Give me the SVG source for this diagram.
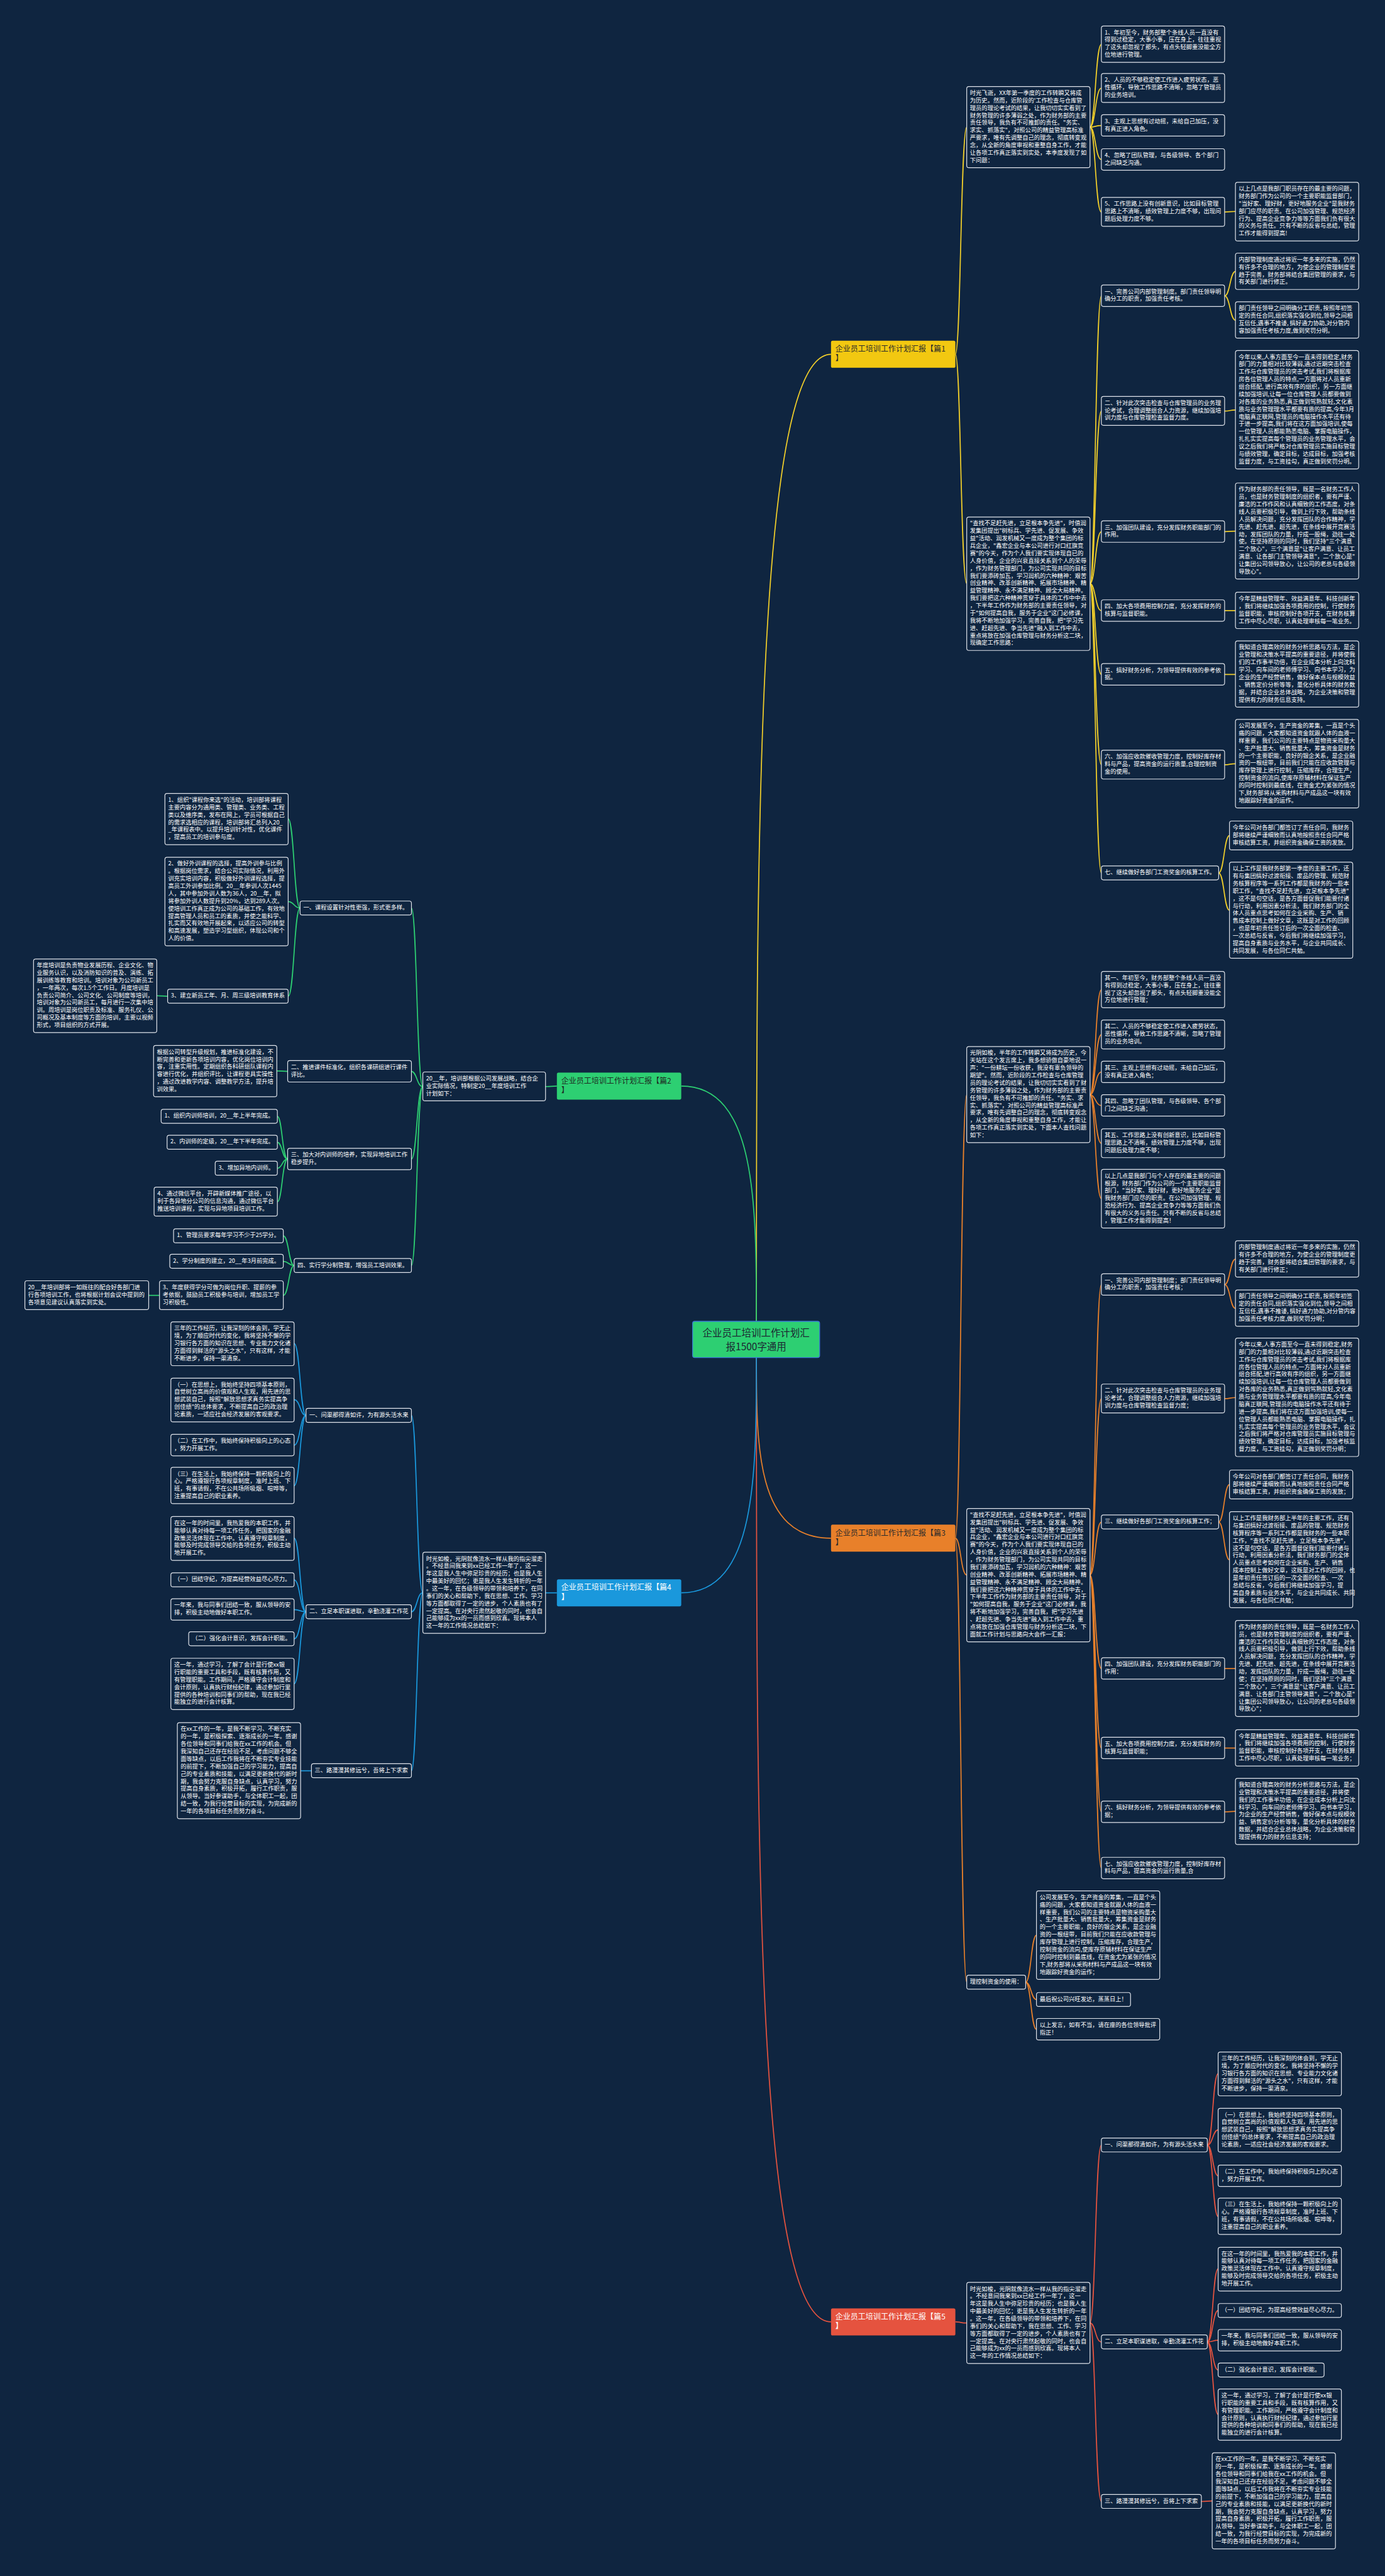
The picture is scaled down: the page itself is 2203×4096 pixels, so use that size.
<svg xmlns="http://www.w3.org/2000/svg" width="2203" height="4096" viewBox="0 0 2203 4096">
<style>
.n rect{fill:#0f2540;stroke:#dfe3ea;stroke-width:1.4}
.n text{font-family:"Noto Sans CJK SC","Noto Sans",sans-serif;font-size:10.8px;fill:#ffffff}
.lb text{font-family:"Noto Sans CJK SC","Noto Sans",sans-serif;font-size:14px}
.c path{fill:none;stroke-width:2}
.cy path{stroke:#f2cf2a}
.co path{stroke:#e8802a}
.cr path{stroke:#e5533f}
.cg path{stroke:#2dcf72}
.cb path{stroke:#1a98dc}
</style>
<rect width="2203" height="4096" fill="#0f2540"/>
<g transform="scale(0.86)">
<g id="connectors" class="c">
<g class="cy">
<path d="M1399,2443 C1399,1549 1399,655 1537,655"/>
<path d="M1767,655 C1777,655 1777,235 1788,235"/>
<path d="M1767,655 C1777,655 1777,1079 1788,1079"/>
<path d="M2016,235 C2026,235 2026,82 2037,82"/>
<path d="M2016,235 C2026,235 2026,163 2037,163"/>
<path d="M2016,235 C2026,235 2026,232 2037,232"/>
<path d="M2016,235 C2026,235 2026,295 2037,295"/>
<path d="M2016,235 C2026,235 2026,392 2037,392"/>
<path d="M2265,392 C2275,392 2275,391 2285,391"/>
<path d="M2016,1079 C2026,1079 2026,547 2037,547"/>
<path d="M2016,1079 C2026,1079 2026,760 2037,760"/>
<path d="M2016,1079 C2026,1079 2026,983 2037,983"/>
<path d="M2016,1079 C2026,1079 2026,1129 2037,1129"/>
<path d="M2016,1079 C2026,1079 2026,1247 2037,1247"/>
<path d="M2016,1079 C2026,1079 2026,1414 2037,1414"/>
<path d="M2016,1079 C2026,1079 2026,1614 2037,1614"/>
<path d="M2265,547 C2275,547 2275,502 2285,502"/>
<path d="M2265,547 C2275,547 2275,592 2285,592"/>
<path d="M2265,760 C2275,760 2275,758 2285,758"/>
<path d="M2265,983 C2275,983 2275,982 2285,982"/>
<path d="M2265,1129 H2285"/>
<path d="M2265,1247 H2285"/>
<path d="M2265,1414 C2275,1414 2275,1412 2285,1412"/>
<path d="M2254,1614 C2264,1614 2264,1545 2274,1545"/>
<path d="M2254,1614 C2264,1614 2264,1683 2274,1683"/>
</g>
<g class="co">
<path d="M1399,2510 C1399,2677 1399,2844 1537,2844"/>
<path d="M1767,2844 C1777,2844 1777,2024 1788,2024"/>
<path d="M1767,2844 C1777,2844 1777,2912 1788,2912"/>
<path d="M1767,2844 C1777,2844 1777,3665 1788,3665"/>
<path d="M2016,2024 C2026,2024 2026,1830 2037,1830"/>
<path d="M2016,2024 C2026,2024 2026,1913 2037,1913"/>
<path d="M2016,2024 C2026,2024 2026,1982 2037,1982"/>
<path d="M2016,2024 C2026,2024 2026,2044 2037,2044"/>
<path d="M2016,2024 C2026,2024 2026,2114 2037,2114"/>
<path d="M2016,2024 C2026,2024 2026,2216 2037,2216"/>
<path d="M2016,2912 C2026,2912 2026,2375 2037,2375"/>
<path d="M2016,2912 C2026,2912 2026,2586 2037,2586"/>
<path d="M2016,2912 C2026,2912 2026,2814 2037,2814"/>
<path d="M2016,2912 C2026,2912 2026,3085 2037,3085"/>
<path d="M2016,2912 C2026,2912 2026,3232 2037,3232"/>
<path d="M2016,2912 C2026,2912 2026,3350 2037,3350"/>
<path d="M2016,2912 C2026,2912 2026,3454 2037,3454"/>
<path d="M1897,3665 C1907,3665 1907,3578 1917,3578"/>
<path d="M1897,3665 C1907,3665 1907,3697 1917,3697"/>
<path d="M1897,3665 C1907,3665 1907,3752 1917,3752"/>
<path d="M2265,2375 C2275,2375 2275,2328 2285,2328"/>
<path d="M2265,2375 C2275,2375 2275,2419 2285,2419"/>
<path d="M2265,2586 C2275,2586 2275,2584 2285,2584"/>
<path d="M2254,2814 C2264,2814 2264,2745 2274,2745"/>
<path d="M2254,2814 C2264,2814 2264,2884 2274,2884"/>
<path d="M2265,3085 H2285"/>
<path d="M2265,3232 H2285"/>
<path d="M2265,3350 C2275,3350 2275,3349 2285,3349"/>
</g>
<g class="cr">
<path d="M1399,2510 C1399,3401 1399,4293 1537,4293"/>
<path d="M1767,4293 C1777,4293 1777,4295 1788,4295"/>
<path d="M2016,4295 C2026,4295 2026,3966 2037,3966"/>
<path d="M2016,4295 C2026,4295 2026,4330 2037,4330"/>
<path d="M2016,4295 C2026,4295 2026,4625 2037,4625"/>
<path d="M2233,3966 C2243,3966 2243,3834 2253,3834"/>
<path d="M2233,3966 C2243,3966 2243,3938 2253,3938"/>
<path d="M2233,3966 C2243,3966 2243,4023 2253,4023"/>
<path d="M2233,3966 C2243,3966 2243,4098 2253,4098"/>
<path d="M2233,4330 C2243,4330 2243,4195 2253,4195"/>
<path d="M2233,4330 C2243,4330 2243,4272 2253,4272"/>
<path d="M2233,4330 C2243,4330 2243,4327 2253,4327"/>
<path d="M2233,4330 C2243,4330 2243,4382 2253,4382"/>
<path d="M2233,4330 C2243,4330 2243,4464 2253,4464"/>
<path d="M2222,4625 C2232,4625 2232,4624 2242,4624"/>
</g>
<g class="cg">
<path d="M1399,2443 C1399,2225 1399,2008 1260,2008"/>
<path d="M1030,2008 C1020,2008 1020,2009 1009,2009"/>
<path d="M782,2009 C771,2009 771,1679 761,1679"/>
<path d="M782,2009 C771,2009 771,1981 761,1981"/>
<path d="M782,2009 C771,2009 771,2143 761,2143"/>
<path d="M782,2009 C771,2009 771,2340 761,2340"/>
<path d="M555,1679 C544,1679 544,1514 533,1514"/>
<path d="M555,1679 C544,1679 544,1667 533,1667"/>
<path d="M555,1679 C544,1679 544,1842 533,1842"/>
<path d="M310,1842 C300,1842 300,1841 290,1841"/>
<path d="M532,1981 C522,1981 522,1980 512,1980"/>
<path d="M532,2143 C522,2143 522,2064 513,2064"/>
<path d="M532,2143 C522,2143 522,2112 513,2112"/>
<path d="M532,2143 C522,2143 522,2160 513,2160"/>
<path d="M532,2143 C522,2143 522,2222 513,2222"/>
<path d="M544,2340 C534,2340 534,2285 524,2285"/>
<path d="M544,2340 C534,2340 534,2332 524,2332"/>
<path d="M544,2340 C534,2340 534,2395 524,2395"/>
<path d="M295,2395 H275"/>
</g>
<g class="cb">
<path d="M1399,2510 C1399,2727 1399,2945 1260,2945"/>
<path d="M1030,2945 H1009"/>
<path d="M782,2945 C771,2945 771,2617 761,2617"/>
<path d="M782,2945 C771,2945 771,2980 761,2980"/>
<path d="M782,2945 C771,2945 771,3274 761,3274"/>
<path d="M566,2617 C555,2617 555,2484 544,2484"/>
<path d="M566,2617 C555,2617 555,2588 544,2588"/>
<path d="M566,2617 C555,2617 555,2672 544,2672"/>
<path d="M566,2617 C555,2617 555,2747 544,2747"/>
<path d="M566,2980 C555,2980 555,2844 544,2844"/>
<path d="M566,2980 C555,2980 555,2921 544,2921"/>
<path d="M566,2980 C555,2980 555,2976 544,2976"/>
<path d="M566,2980 C555,2980 555,3030 544,3030"/>
<path d="M566,2980 C555,2980 555,3113 544,3113"/>
<path d="M576,3274 H556"/>
</g>
</g>

<g id="root"><rect x="1281" y="2443" width="235" height="67" rx="4" fill="#2dcf72" stroke="#3a7bd5" stroke-width="1.5"/><text x="1398.5" y="2471" text-anchor="middle" font-family="Noto Sans CJK SC,Noto Sans,sans-serif" font-size="18" fill="#1c2833"><tspan x="1398.5" y="2471">企业员工培训工作计划汇</tspan><tspan x="1398.5" y="2496">报1500字通用</tspan></text></g>

<g id="label1" class="lb"><rect x="1537" y="630" width="230" height="50" rx="3" fill="#f2c811"/><text fill="#2b2b2b"><tspan x="1545" y="650">企业员工培训工作计划汇报【篇1</tspan><tspan x="1545" y="668">】</tspan></text></g>
<g id="label2" class="lb"><rect x="1030" y="1983" width="230" height="50" rx="3" fill="#2dcf72"/><text fill="#1d2b22"><tspan x="1038" y="2003">企业员工培训工作计划汇报【篇2</tspan><tspan x="1038" y="2021">】</tspan></text></g>
<g id="label3" class="lb"><rect x="1537" y="2819" width="230" height="50" rx="3" fill="#e8802a"/><text fill="#2b2b2b"><tspan x="1545" y="2839">企业员工培训工作计划汇报【篇3</tspan><tspan x="1545" y="2857">】</tspan></text></g>
<g id="label4" class="lb"><rect x="1030" y="2920" width="230" height="50" rx="3" fill="#1a98dc"/><text fill="#ffffff"><tspan x="1038" y="2940">企业员工培训工作计划汇报【篇4</tspan><tspan x="1038" y="2958">】</tspan></text></g>
<g id="label5" class="lb"><rect x="1537" y="4268" width="230" height="50" rx="3" fill="#e5533f"/><text fill="#ffffff"><tspan x="1545" y="4288">企业员工培训工作计划汇报【篇5</tspan><tspan x="1545" y="4306">】</tspan></text></g>

<!-- Branch 1 -->
<g id="y_l2a" class="n"><rect x="1788" y="160" width="228" height="150" rx="4"/><text><tspan x="1794" y="175.5">时光飞逝，XX年第一季度的工作转瞬又将成</tspan><tspan x="1794" dy="13.8">为历史。然而，近阶段的'工作检查与仓库管</tspan><tspan x="1794" dy="13.8">理员的理论考试的结果，让我切切实实看到了</tspan><tspan x="1794" dy="13.8">财务管理的许多薄弱之处，作为财务部的主要</tspan><tspan x="1794" dy="13.8">责任领导，我负有不可推卸的责任。"务实、</tspan><tspan x="1794" dy="13.8">求实、抓落实"，对照公司的精益管理高标准</tspan><tspan x="1794" dy="13.8">严要求，唯有先调整自己的理念，彻底转变观</tspan><tspan x="1794" dy="13.8">念，从全新的角度审视和重整自身工作，才能</tspan><tspan x="1794" dy="13.8">让各项工作真正落实到实处，本季度发现了如</tspan><tspan x="1794" dy="13.8">下问题：</tspan></text></g>
<g id="y_1" class="n"><rect x="2037" y="48" width="228" height="67.2" rx="4"/><text><tspan x="2043" y="63.5">1、年初至今，财务部整个条线人员一直没有</tspan><tspan x="2043" dy="13.8">得到过稳定，大事小事，压在身上，往往重视</tspan><tspan x="2043" dy="13.8">了这头却忽视了那头，有点头轻脚重没能全方</tspan><tspan x="2043" dy="13.8">位地进行管理。</tspan></text></g>
<g id="y_2" class="n"><rect x="2037" y="136" width="228" height="53.4" rx="4"/><text><tspan x="2043" y="151.5">2、人员的不够稳定使工作进入疲劳状态，恶</tspan><tspan x="2043" dy="13.8">性循环，导致工作思路不清晰，忽略了管理员</tspan><tspan x="2043" dy="13.8">的业务培训。</tspan></text></g>
<g id="y_3" class="n"><rect x="2037" y="212" width="228" height="39.6" rx="4"/><text><tspan x="2043" y="227.5">3、主观上思想有过动摇，未给自己加压，没</tspan><tspan x="2043" dy="13.8">有真正进入角色。</tspan></text></g>
<g id="y_4" class="n"><rect x="2037" y="275" width="228" height="39.6" rx="4"/><text><tspan x="2043" y="290.5">4、忽略了团队管理，与各级领导、各个部门</tspan><tspan x="2043" dy="13.8">之间缺乏沟通。</tspan></text></g>
<g id="y_5" class="n"><rect x="2037" y="365" width="228" height="53.4" rx="4"/><text><tspan x="2043" y="380.5">5、工作思路上没有创新意识，比如目标管理</tspan><tspan x="2043" dy="13.8">思路上不清晰，绩效管理上力度不够，出现问</tspan><tspan x="2043" dy="13.8">题后处理力度不够。</tspan></text></g>
<g id="y_5a" class="n"><rect x="2285" y="337" width="228" height="108.6" rx="4"/><text><tspan x="2291" y="352.5">以上几点是我部门职员存在的最主要的问题，</tspan><tspan x="2291" dy="13.8">财务部门作为公司的一个主要职能监督部门，</tspan><tspan x="2291" dy="13.8">"当好家、理好财，更好地服务企业"是我财务</tspan><tspan x="2291" dy="13.8">部门应尽的职责。在公司加强管理、规范经济</tspan><tspan x="2291" dy="13.8">行为、提高企业竞争力等等方面我们负有很大</tspan><tspan x="2291" dy="13.8">的义务与责任。只有不断的反省与总结，管理</tspan><tspan x="2291" dy="13.8">工作才能得到提高!</tspan></text></g>
<g id="y_l2b" class="n"><rect x="1788" y="956" width="228" height="246.6" rx="4"/><text><tspan x="1794" y="971.5">"查找不足赶先进，立足根本争先进"，时值润</tspan><tspan x="1794" dy="13.8">发集团提出"树标兵、学先进、促发展、争效</tspan><tspan x="1794" dy="13.8">益"活动、润发机械又一度成为整个集团的标</tspan><tspan x="1794" dy="13.8">兵企业，"鑫宏企业与本公司进行对口红旗竞</tspan><tspan x="1794" dy="13.8">赛"的今天，作为个人我们要实现体现自已的</tspan><tspan x="1794" dy="13.8">人身价值，企业的兴衰直接关系到个人的荣辱</tspan><tspan x="1794" dy="13.8">，作为财务管理部门，为公司实现共同的目标</tspan><tspan x="1794" dy="13.8">我们要添砖加瓦，学习润机的六种精神：艰苦</tspan><tspan x="1794" dy="13.8">创业精神、改革创新精神、拓展市场精神、精</tspan><tspan x="1794" dy="13.8">益管理精神、永不满足精神、顾全大局精神。</tspan><tspan x="1794" dy="13.8">我们要把这六种精神贯穿于具体的工作中中去</tspan><tspan x="1794" dy="13.8">，下半年工作作为财务部的主要责任领导，对</tspan><tspan x="1794" dy="13.8">于"如何提高自我，服务于企业"这门必修课，</tspan><tspan x="1794" dy="13.8">我将不断地加强学习，完善自我，把"学习先</tspan><tspan x="1794" dy="13.8">进、赶超先进、争当先进"融入到工作中去，</tspan><tspan x="1794" dy="13.8">重点将放在加强仓库管理与财务分析这二块，</tspan><tspan x="1794" dy="13.8">现确定工作思路：</tspan></text></g>
<g id="y_b1" class="n"><rect x="2037" y="527" width="228" height="39.6" rx="4"/><text><tspan x="2043" y="542.5">一、完善公司内部管理制度。部门责任领导明</tspan><tspan x="2043" dy="13.8">确分工的职责，加强责任考核。</tspan></text></g>
<g id="y_b1a" class="n"><rect x="2285" y="468" width="228" height="67.2" rx="4"/><text><tspan x="2291" y="483.5">内部管理制度通过将近一年多来的实施，仍然</tspan><tspan x="2291" dy="13.8">有许多不合理的地方，为使企业的管理制度更</tspan><tspan x="2291" dy="13.8">趋于完善，财务部将结合集团管理的要求，与</tspan><tspan x="2291" dy="13.8">有关部门进行修正。</tspan></text></g>
<g id="y_b1b" class="n"><rect x="2285" y="558" width="228" height="67.2" rx="4"/><text><tspan x="2291" y="573.5">部门责任领导之间明确分工职责, 按照年初签</tspan><tspan x="2291" dy="13.8">定的责任合同,组织落实强化到位,领导之间相</tspan><tspan x="2291" dy="13.8">互信任,遇事不推诿, 搞好通力协助,对分管内</tspan><tspan x="2291" dy="13.8">容加强责任考核力度,做到奖罚分明。</tspan></text></g>
<g id="y_b2" class="n"><rect x="2037" y="733" width="228" height="53.4" rx="4"/><text><tspan x="2043" y="748.5">二、针对此次突击检查与仓库管理员的业务理</tspan><tspan x="2043" dy="13.8">论考试，合理调整组合人力资源，继续加强培</tspan><tspan x="2043" dy="13.8">训力度与仓库管理检查监督力度。</tspan></text></g>
<g id="y_b2a" class="n"><rect x="2285" y="648" width="228" height="219" rx="4"/><text><tspan x="2291" y="663.5">今年以来,人事方面至今一直未得到稳定,财务</tspan><tspan x="2291" dy="13.8">部门的力量相对比较薄弱,通过近期突击检查</tspan><tspan x="2291" dy="13.8">工作与仓库管理员的突击考试,我们将根据库</tspan><tspan x="2291" dy="13.8">房各位管理人员的特点,一方面将对人员重新</tspan><tspan x="2291" dy="13.8">组合搭配, 进行高效有序的组织，另一方面继</tspan><tspan x="2291" dy="13.8">续加强培训,让每一位仓库管理人员都要做到</tspan><tspan x="2291" dy="13.8">对各库的业务熟悉,真正做到驾熟就轻,文化素</tspan><tspan x="2291" dy="13.8">质与业务管理理水平都要有质的提高,今年3月</tspan><tspan x="2291" dy="13.8">电脑真正联网,管理员的电脑操作水平还有待</tspan><tspan x="2291" dy="13.8">于进一步提高,我们将在这方面加强培训,使每</tspan><tspan x="2291" dy="13.8">一位管理人员都能熟悉电脑、掌握电脑操作，</tspan><tspan x="2291" dy="13.8">扎扎实实提高每个管理员的业务管理水平，会</tspan><tspan x="2291" dy="13.8">议之后我们将严格对仓库管理员实施目标管理</tspan><tspan x="2291" dy="13.8">与绩效管理，确定目标，达成目标，加强考核</tspan><tspan x="2291" dy="13.8">监督力度，与工资挂勾，真正做到奖罚分明。</tspan></text></g>
<g id="y_b3" class="n"><rect x="2037" y="963" width="228" height="39.6" rx="4"/><text><tspan x="2043" y="978.5">三、加强团队建设，充分发挥财务职能部门的</tspan><tspan x="2043" dy="13.8">作用。</tspan></text></g>
<g id="y_b3a" class="n"><rect x="2285" y="893" width="228" height="177.6" rx="4"/><text><tspan x="2291" y="908.5">作为财务部的责任领导，既是一名财务工作人</tspan><tspan x="2291" dy="13.8">员，也是财务管理制度的组织者，要有严谨、</tspan><tspan x="2291" dy="13.8">廉洁的工作作风和认真细致的工作态度，对条</tspan><tspan x="2291" dy="13.8">线人员要积极引导，做到上行下效，帮助条线</tspan><tspan x="2291" dy="13.8">人员解决问题，充分发挥团队的合作精神，学</tspan><tspan x="2291" dy="13.8">先进、赶先进、超先进，在条线中展开竞赛活</tspan><tspan x="2291" dy="13.8">动，发挥团队的力量，拧成一股绳，劲往一处</tspan><tspan x="2291" dy="13.8">使。在坚持原则的同时，我们坚持"三个满意</tspan><tspan x="2291" dy="13.8">二个放心"，三个满意是"让客户满意、让员工</tspan><tspan x="2291" dy="13.8">满意、让各部门主管领导满意"，二个放心是"</tspan><tspan x="2291" dy="13.8">让集团公司领导放心，让公司的老总与各级领</tspan><tspan x="2291" dy="13.8">导放心"。</tspan></text></g>
<g id="y_b4" class="n"><rect x="2037" y="1109" width="228" height="39.6" rx="4"/><text><tspan x="2043" y="1124.5">四、加大各项费用控制力度，充分发挥财务的</tspan><tspan x="2043" dy="13.8">核算与监督职能。</tspan></text></g>
<g id="y_b4a" class="n"><rect x="2285" y="1095" width="228" height="67.2" rx="4"/><text><tspan x="2291" y="1110.5">今年是精益管理年、效益满意年、科技创新年</tspan><tspan x="2291" dy="13.8">，我们将继续加强各项费用的控制，行使财务</tspan><tspan x="2291" dy="13.8">监督职能，审核控制好各项开支，在财务核算</tspan><tspan x="2291" dy="13.8">工作中尽心尽职，认真处理审核每一笔业务。</tspan></text></g>
<g id="y_b5" class="n"><rect x="2037" y="1227" width="228" height="39.6" rx="4"/><text><tspan x="2043" y="1242.5">五、搞好财务分析，为领导提供有效的参考依</tspan><tspan x="2043" dy="13.8">据。</tspan></text></g>
<g id="y_b5a" class="n"><rect x="2285" y="1185" width="228" height="122.4" rx="4"/><text><tspan x="2291" y="1200.5">我知道合理高效的财务分析思路与方法，是企</tspan><tspan x="2291" dy="13.8">业管理和决策水平提高的重要途径，并将使我</tspan><tspan x="2291" dy="13.8">们的工作事半功倍，在企业成本分析上向沈科</tspan><tspan x="2291" dy="13.8">学习、向车间的老师傅学习、向书本学习，为</tspan><tspan x="2291" dy="13.8">企业的生产经营销售，做好保本点与规模效益</tspan><tspan x="2291" dy="13.8">、销售定价分析等等，量化分析具体的财务数</tspan><tspan x="2291" dy="13.8">据，并结合企业总体战略，为企业决策和管理</tspan><tspan x="2291" dy="13.8">提供有力的财务信息支持。</tspan></text></g>
<g id="y_b6" class="n"><rect x="2037" y="1387" width="228" height="53.4" rx="4"/><text><tspan x="2043" y="1402.5">六、加强应收款催收管理力度，控制好库存材</tspan><tspan x="2043" dy="13.8">料与产品，提高资金的运行质量,合理控制资</tspan><tspan x="2043" dy="13.8">金的使用。</tspan></text></g>
<g id="y_b6a" class="n"><rect x="2285" y="1330" width="228" height="163.8" rx="4"/><text><tspan x="2291" y="1345.5">公司发展至今，生产资金的筹集，一直是个头</tspan><tspan x="2291" dy="13.8">痛的问题，大家都知道资金就跟人体的血液一</tspan><tspan x="2291" dy="13.8">样重要，我们公司的主要特点是物资采购量大</tspan><tspan x="2291" dy="13.8">、生产批量大、销售批量大，筹集资金是财务</tspan><tspan x="2291" dy="13.8">的一个主要职能，良好的银企关系，是企业融</tspan><tspan x="2291" dy="13.8">资的一根纽带，目前我们只能在应收款管理与</tspan><tspan x="2291" dy="13.8">库存管理上进行控制，压缩库存，合理生产，</tspan><tspan x="2291" dy="13.8">控制资金的流向,使库存原辅材料在保证生产</tspan><tspan x="2291" dy="13.8">的同时控制到最底线，在资金尤为紧张的情况</tspan><tspan x="2291" dy="13.8">下,财务部将从采购材料与产成品这一块有效</tspan><tspan x="2291" dy="13.8">地跟踪好资金的运作。</tspan></text></g>
<g id="y_b7" class="n"><rect x="2037" y="1601" width="217" height="25.8" rx="4"/><text><tspan x="2043" y="1616.5">七、继续做好各部门工资奖金的核算工作。</tspan></text></g>
<g id="y_b7a" class="n"><rect x="2274" y="1518" width="228" height="53.4" rx="4"/><text><tspan x="2280" y="1533.5">今年公司对各部门都签订了责任合同，我财务</tspan><tspan x="2280" dy="13.8">部将继续严谨细致而认真地按照责任合同严格</tspan><tspan x="2280" dy="13.8">审核结算工资，并组织资金确保工资的发放。</tspan></text></g>
<g id="y_b7b" class="n"><rect x="2274" y="1594" width="228" height="177.6" rx="4"/><text><tspan x="2280" y="1609.5">以上工作是我财务部第一季度的主要工作，还</tspan><tspan x="2280" dy="13.8">有与集团搞好过渡衔接、废品的管理、规范财</tspan><tspan x="2280" dy="13.8">务核算程序等一系列工作都是我财务的一些本</tspan><tspan x="2280" dy="13.8">职工作，"查找不足赶先进，立足根本争先进"</tspan><tspan x="2280" dy="13.8">，这不是句空话，是各方面督促我们能要付诸</tspan><tspan x="2280" dy="13.8">与行动，利用因素分析法，我们财务部门的全</tspan><tspan x="2280" dy="13.8">体人员重点思考如何在企业采购、生产、销</tspan><tspan x="2280" dy="13.8">售成本控制上做好文章，这既是对工作的回顾</tspan><tspan x="2280" dy="13.8">，也是年初责任签订后的一次全面的检查、</tspan><tspan x="2280" dy="13.8">一次总结与反省，今后我们将继续加强学习，</tspan><tspan x="2280" dy="13.8">提高自身素质与业务水平，与企业共同成长、</tspan><tspan x="2280" dy="13.8">共同发展，与各位同仁共勉。</tspan></text></g>

<!-- Branch 3 -->
<g id="o_l2a" class="n"><rect x="1788" y="1935" width="228" height="177.6" rx="4"/><text><tspan x="1794" y="1950.5">光阴如梭，半年的工作转瞬又将成为历史，今</tspan><tspan x="1794" dy="13.8">天站在这个发言席上，我多想骄傲自豪地说一</tspan><tspan x="1794" dy="13.8">声："一份耕坛一份收获，我没有辜负领导的</tspan><tspan x="1794" dy="13.8">期望"。然而，近阶段的工作检查与仓库管理</tspan><tspan x="1794" dy="13.8">员的理论考试的结果，让我切切实实看到了财</tspan><tspan x="1794" dy="13.8">务管理的许多薄弱之处，作为财务部的主要责</tspan><tspan x="1794" dy="13.8">任领导，我负有不可推卸的责任。"务实、求</tspan><tspan x="1794" dy="13.8">实、抓落实"，对照公司的精益管理高标准严</tspan><tspan x="1794" dy="13.8">要求，唯有先调整自己的理念，彻底转变观念</tspan><tspan x="1794" dy="13.8">，从全新的角度审视和重整自身工作，才能让</tspan><tspan x="1794" dy="13.8">各项工作真正落实到实处，下面本人查找问题</tspan><tspan x="1794" dy="13.8">如下：</tspan></text></g>
<g id="o_1" class="n"><rect x="2037" y="1796" width="228" height="67.2" rx="4"/><text><tspan x="2043" y="1811.5">其一、年初至今，财务部整个条线人员一直没</tspan><tspan x="2043" dy="13.8">有得到过稳定，大事小事，压在身上，往往重</tspan><tspan x="2043" dy="13.8">视了这头却忽视了那头，有点头轻脚重没能全</tspan><tspan x="2043" dy="13.8">方位地进行管理；</tspan></text></g>
<g id="o_2" class="n"><rect x="2037" y="1886" width="228" height="53.4" rx="4"/><text><tspan x="2043" y="1901.5">其二、人员的不够稳定使工作进入疲劳状态，</tspan><tspan x="2043" dy="13.8">恶性循环，导致工作思路不清晰，忽略了管理</tspan><tspan x="2043" dy="13.8">员的业务培训。</tspan></text></g>
<g id="o_3" class="n"><rect x="2037" y="1962" width="228" height="39.6" rx="4"/><text><tspan x="2043" y="1977.5">其三、主观上思想有过动摇，未给自己加压，</tspan><tspan x="2043" dy="13.8">没有真正进入角色；</tspan></text></g>
<g id="o_4" class="n"><rect x="2037" y="2024" width="228" height="39.6" rx="4"/><text><tspan x="2043" y="2039.5">其四、忽略了团队管理，与各级领导、各个部</tspan><tspan x="2043" dy="13.8">门之间缺乏沟通；</tspan></text></g>
<g id="o_5" class="n"><rect x="2037" y="2087" width="228" height="53.4" rx="4"/><text><tspan x="2043" y="2102.5">其五、工作思路上没有创新意识，比如目标管</tspan><tspan x="2043" dy="13.8">理思路上不清晰，绩效管理上力度不够，出现</tspan><tspan x="2043" dy="13.8">问题后处理力度不够；</tspan></text></g>
<g id="o_6" class="n"><rect x="2037" y="2162" width="228" height="108.6" rx="4"/><text><tspan x="2043" y="2177.5">以上几点是我部门与个人存在的最主要的问题</tspan><tspan x="2043" dy="13.8">根源，财务部门作为公司的一个主要职能监督</tspan><tspan x="2043" dy="13.8">部门，"当好家、理好财，更好地服务企业"是</tspan><tspan x="2043" dy="13.8">我财务部门应尽的职责。在公司加强管理、规</tspan><tspan x="2043" dy="13.8">范经济行为、提高企业竞争力等等方面我们负</tspan><tspan x="2043" dy="13.8">有很大的义务与责任。只有不断的反省与总结</tspan><tspan x="2043" dy="13.8">，管理工作才能得到提高！</tspan></text></g>
<g id="o_l2b" class="n"><rect x="1788" y="2789" width="228" height="246.6" rx="4"/><text><tspan x="1794" y="2804.5">"查找不足赶先进，立足根本争先进"，时值润</tspan><tspan x="1794" dy="13.8">发集团提出"树标兵、学先进、促发展、争效</tspan><tspan x="1794" dy="13.8">益"活动、润发机械又一度成为整个集团的标</tspan><tspan x="1794" dy="13.8">兵企业，"鑫宏企业与本公司进行对口红旗竞</tspan><tspan x="1794" dy="13.8">赛"的今天，作为个人我们要实现体现自已的</tspan><tspan x="1794" dy="13.8">人身价值，企业的兴衰直接关系到个人的荣辱</tspan><tspan x="1794" dy="13.8">，作为财务管理部门，为公司实现共同的目标</tspan><tspan x="1794" dy="13.8">我们要添砖加瓦，学习润机的六种精神：艰苦</tspan><tspan x="1794" dy="13.8">创业精神、改革创新精神、拓展市场精神、精</tspan><tspan x="1794" dy="13.8">益管理精神、永不满足精神、顾全大局精神。</tspan><tspan x="1794" dy="13.8">我们要把这六种精神贯穿于具体的工作中去，</tspan><tspan x="1794" dy="13.8">下半年工作作为财务部的主要责任领导，对于</tspan><tspan x="1794" dy="13.8">"如何提高自我，服务于企业"这门必修课，我</tspan><tspan x="1794" dy="13.8">将不断地加强学习，完善自我，把"学习先进</tspan><tspan x="1794" dy="13.8">、赶超先进、争当先进"融入到工作中去，重</tspan><tspan x="1794" dy="13.8">点将放在加强仓库管理与财务分析这二块，下</tspan><tspan x="1794" dy="13.8">面就工作计划与思路向大会作一汇报：</tspan></text></g>
<g id="o_b1" class="n"><rect x="2037" y="2355" width="228" height="39.6" rx="4"/><text><tspan x="2043" y="2370.5">一、完善公司内部管理制度；部门责任领导明</tspan><tspan x="2043" dy="13.8">确分工的职责，加强责任考核；</tspan></text></g>
<g id="o_b1a" class="n"><rect x="2285" y="2294" width="228" height="67.2" rx="4"/><text><tspan x="2291" y="2309.5">内部管理制度通过将近一年多来的实施，仍然</tspan><tspan x="2291" dy="13.8">有许多不合理的地方，为使企业的管理制度更</tspan><tspan x="2291" dy="13.8">趋于完善，财务部将结合集团管理的要求，与</tspan><tspan x="2291" dy="13.8">有关部门进行修正；</tspan></text></g>
<g id="o_b1b" class="n"><rect x="2285" y="2385" width="228" height="67.2" rx="4"/><text><tspan x="2291" y="2400.5">部门责任领导之间明确分工职责, 按照年初签</tspan><tspan x="2291" dy="13.8">定的责任合同,组织落实强化到位,领导之间相</tspan><tspan x="2291" dy="13.8">互信任,遇事不推诿, 搞好通力协助,对分管内容</tspan><tspan x="2291" dy="13.8">加强责任考核力度,做到奖罚分明；</tspan></text></g>
<g id="o_b2" class="n"><rect x="2037" y="2559" width="228" height="53.4" rx="4"/><text><tspan x="2043" y="2574.5">二、针对此次突击检查与仓库管理员的业务理</tspan><tspan x="2043" dy="13.8">论考试，合理调整组合人力资源，继续加强培</tspan><tspan x="2043" dy="13.8">训力度与仓库管理检查监督力度；</tspan></text></g>
<g id="o_b2a" class="n"><rect x="2285" y="2474" width="228" height="219" rx="4"/><text><tspan x="2291" y="2489.5">今年以来,人事方面至今一直未得到稳定,财务</tspan><tspan x="2291" dy="13.8">部门的力量相对比较薄弱,通过近期突击检查</tspan><tspan x="2291" dy="13.8">工作与仓库管理员的突击考试,我们将根据库</tspan><tspan x="2291" dy="13.8">房各位管理人员的特点,一方面将对人员重新</tspan><tspan x="2291" dy="13.8">组合搭配,进行高效有序的组织，另一方面继</tspan><tspan x="2291" dy="13.8">续加强培训,让每一位仓库管理人员都要做到</tspan><tspan x="2291" dy="13.8">对各库的业务熟悉,真正做到驾熟就轻,文化素</tspan><tspan x="2291" dy="13.8">质与业务管理理水平都要有质的提高,今年电</tspan><tspan x="2291" dy="13.8">脑真正联网,管理员的电脑操作水平还有待于</tspan><tspan x="2291" dy="13.8">进一步提高,我们将在这方面加强培训,使每一</tspan><tspan x="2291" dy="13.8">位管理人员都能熟悉电脑、掌握电脑操作，扎</tspan><tspan x="2291" dy="13.8">扎实实提高每个管理员的业务管理水平，会议</tspan><tspan x="2291" dy="13.8">之后我们将严格对仓库管理员实施目标管理与</tspan><tspan x="2291" dy="13.8">绩效管理，确定目标，达成目标，加强考核监</tspan><tspan x="2291" dy="13.8">督力度，与工资挂勾，真正做到奖罚分明；</tspan></text></g>
<g id="o_b3" class="n"><rect x="2037" y="2801" width="217" height="25.8" rx="4"/><text><tspan x="2043" y="2816.5">三、继续做好各部门工资奖金的核算工作；</tspan></text></g>
<g id="o_b3a" class="n"><rect x="2274" y="2718" width="228" height="53.4" rx="4"/><text><tspan x="2280" y="2733.5">今年公司对各部门都签订了责任合同，我财务</tspan><tspan x="2280" dy="13.8">部将继续严谨细致而认真地按照责任合同严格</tspan><tspan x="2280" dy="13.8">审核结算工资，并组织资金确保工资的发放；</tspan></text></g>
<g id="o_b3b" class="n"><rect x="2274" y="2795" width="228" height="177.6" rx="4"/><text><tspan x="2280" y="2810.5">以上工作是我财务部上半年的主要工作，还有</tspan><tspan x="2280" dy="13.8">与集团搞好过渡衔接、废品的管理、规范财务</tspan><tspan x="2280" dy="13.8">核算程序等一系列工作都是我财务的一些本职</tspan><tspan x="2280" dy="13.8">工作，"查找不足赶先进，立足根本争先进"，</tspan><tspan x="2280" dy="13.8">这不是句空话，是各方面督促我们能要付诸与</tspan><tspan x="2280" dy="13.8">行动，利用因素分析法，我们财务部门的全体</tspan><tspan x="2280" dy="13.8">人员重点思考如何在企业采购、生产、销售</tspan><tspan x="2280" dy="13.8">成本控制上做好文章，这既是对工作的回顾，也</tspan><tspan x="2280" dy="13.8">是年初责任签订后的一次全面的检查、一次</tspan><tspan x="2280" dy="13.8">总结与反省，今后我们将继续加强学习，提</tspan><tspan x="2280" dy="13.8">高自身素质与业务水平，与企业共同成长、共同</tspan><tspan x="2280" dy="13.8">发展，与各位同仁共勉；</tspan></text></g>
<g id="o_b4" class="n"><rect x="2037" y="3065" width="228" height="39.6" rx="4"/><text><tspan x="2043" y="3080.5">四、加强团队建设，充分发挥财务职能部门的</tspan><tspan x="2043" dy="13.8">作用：</tspan></text></g>
<g id="o_b4a" class="n"><rect x="2285" y="2996" width="228" height="177.6" rx="4"/><text><tspan x="2291" y="3011.5">作为财务部的责任领导，既是一名财务工作人</tspan><tspan x="2291" dy="13.8">员，也是财务管理制度的组织者，要有严谨、</tspan><tspan x="2291" dy="13.8">廉洁的工作作风和认真细致的工作态度，对条</tspan><tspan x="2291" dy="13.8">线人员要积极引导，做到上行下效，帮助条线</tspan><tspan x="2291" dy="13.8">人员解决问题，充分发挥团队的合作精神，学</tspan><tspan x="2291" dy="13.8">先进、赶先进、超先进，在条线中展开竞赛活</tspan><tspan x="2291" dy="13.8">动，发挥团队的力量，拧成一股绳，劲往一处</tspan><tspan x="2291" dy="13.8">使；在坚持原则的同时，我们坚持"三个满意</tspan><tspan x="2291" dy="13.8">二个放心"，三个满意是"让客户满意、让员工</tspan><tspan x="2291" dy="13.8">满意、让各部门主管领导满意"，二个放心是"</tspan><tspan x="2291" dy="13.8">让集团公司领导放心，让公司的老总与各级领</tspan><tspan x="2291" dy="13.8">导放心"；</tspan></text></g>
<g id="o_b5" class="n"><rect x="2037" y="3212" width="228" height="39.6" rx="4"/><text><tspan x="2043" y="3227.5">五、加大各项费用控制力度，充分发挥财务的</tspan><tspan x="2043" dy="13.8">核算与监督职能；</tspan></text></g>
<g id="o_b5a" class="n"><rect x="2285" y="3198" width="228" height="67.2" rx="4"/><text><tspan x="2291" y="3213.5">今年是精益管理年、效益满意年、科技创新年</tspan><tspan x="2291" dy="13.8">，我们将继续加强各项费用的控制，行使财务</tspan><tspan x="2291" dy="13.8">监督职能，审核控制好各项开支，在财务核算</tspan><tspan x="2291" dy="13.8">工作中尽心尽职，认真处理审核每一笔业务；</tspan></text></g>
<g id="o_b6" class="n"><rect x="2037" y="3330" width="228" height="39.6" rx="4"/><text><tspan x="2043" y="3345.5">六、搞好财务分析，为领导提供有效的参考依</tspan><tspan x="2043" dy="13.8">据；</tspan></text></g>
<g id="o_b6a" class="n"><rect x="2285" y="3288" width="228" height="122.4" rx="4"/><text><tspan x="2291" y="3303.5">我知道合理高效的财务分析思路与方法，是企</tspan><tspan x="2291" dy="13.8">业管理和决策水平提高的重要途径，并将使</tspan><tspan x="2291" dy="13.8">我们的工作事半功倍，在企业成本分析上向沈</tspan><tspan x="2291" dy="13.8">科学习、向车间的老师傅学习、向书本学习，</tspan><tspan x="2291" dy="13.8">为企业的生产经营销售，做好保本点与规模效</tspan><tspan x="2291" dy="13.8">益、销售定价分析等等，量化分析具体的财务</tspan><tspan x="2291" dy="13.8">数据，并结合企业总体战略，为企业决策和管</tspan><tspan x="2291" dy="13.8">理提供有力的财务信息支持；</tspan></text></g>
<g id="o_b7" class="n"><rect x="2037" y="3434" width="228" height="39.6" rx="4"/><text><tspan x="2043" y="3449.5">七、加强应收款催收管理力度，控制好库存材</tspan><tspan x="2043" dy="13.8">料与产品，提高资金的运行质量,合</tspan></text></g>
<g id="o_l2c" class="n"><rect x="1788" y="3652" width="109" height="25.8" rx="4"/><text><tspan x="1794" y="3667.5">理控制资金的使用：</tspan></text></g>
<g id="o_c1" class="n"><rect x="1917" y="3496" width="228" height="163.8" rx="4"/><text><tspan x="1923" y="3511.5">公司发展至今，生产资金的筹集，一直是个头</tspan><tspan x="1923" dy="13.8">痛的问题，大家都知道资金就跟人体的血液一</tspan><tspan x="1923" dy="13.8">样重要，我们公司的主要特点是物资采购量大</tspan><tspan x="1923" dy="13.8">、生产批量大、销售批量大，筹集资金是财务</tspan><tspan x="1923" dy="13.8">的一个主要职能，良好的银企关系，是企业融</tspan><tspan x="1923" dy="13.8">资的一根纽带，目前我们只能在应收款管理与</tspan><tspan x="1923" dy="13.8">库存管理上进行控制，压缩库存，合理生产，</tspan><tspan x="1923" dy="13.8">控制资金的流向,使库存原辅材料在保证生产</tspan><tspan x="1923" dy="13.8">的同时控制到最底线，在资金尤为紧张的情况</tspan><tspan x="1923" dy="13.8">下,财务部将从采购材料与产成品这一块有效</tspan><tspan x="1923" dy="13.8">地跟踪好资金的运作；</tspan></text></g>
<g id="o_c2" class="n"><rect x="1917" y="3684" width="174" height="25.8" rx="4"/><text><tspan x="1923" y="3699.5">最后祝公司兴旺发达，蒸蒸日上！</tspan></text></g>
<g id="o_c3" class="n"><rect x="1917" y="3732" width="228" height="39.6" rx="4"/><text><tspan x="1923" y="3747.5">以上发言，如有不当，请在座的各位领导批评</tspan><tspan x="1923" dy="13.8">指正！</tspan></text></g>

<!-- Branch 5 -->
<g id="r_l2" class="n"><rect x="1788" y="4220" width="228" height="150" rx="4"/><text><tspan x="1794" y="4235.5">时光如梭，光阴就像流水一样从我的指尖溜走</tspan><tspan x="1794" dy="13.8">。不经意间我来到xx已经工作一年了，这一</tspan><tspan x="1794" dy="13.8">年这是我人生中弥足珍贵的经历；也是我人生</tspan><tspan x="1794" dy="13.8">中最美好的回忆；更是我人生发生转折的一年</tspan><tspan x="1794" dy="13.8">。这一年，在各级领导的带领和培养下，在同</tspan><tspan x="1794" dy="13.8">事们的关心和帮助下，我在思想、工作、学习</tspan><tspan x="1794" dy="13.8">等方面都取得了一定的进步，个人素质也有了</tspan><tspan x="1794" dy="13.8">一定提高。在对央行肃然起敬的同时，也会自</tspan><tspan x="1794" dy="13.8">己能够成为xx的一员而感到欣喜。现将本人</tspan><tspan x="1794" dy="13.8">这一年的工作情况总结如下：</tspan></text></g>
<g id="r_1" class="n"><rect x="2037" y="3953" width="196" height="25.8" rx="4"/><text><tspan x="2043" y="3968.5">一、问渠那得清如许，为有源头活水来</tspan></text></g>
<g id="r_1a" class="n"><rect x="2253" y="3794" width="228" height="81" rx="4"/><text><tspan x="2259" y="3809.5">三年的工作经历，让我深刻的体会到，学无止</tspan><tspan x="2259" dy="13.8">境，为了顺应时代的变化，我将坚持不懈的学</tspan><tspan x="2259" dy="13.8">习银行各方面的知识在思想、专业能力文化诸</tspan><tspan x="2259" dy="13.8">方面得到鲜活的"源头之水"，只有这样，才能</tspan><tspan x="2259" dy="13.8">不断进步，保持一渠清泉。</tspan></text></g>
<g id="r_1b" class="n"><rect x="2253" y="3898" width="228" height="81" rx="4"/><text><tspan x="2259" y="3913.5">（一）在思想上，我始终坚持四项基本原则，</tspan><tspan x="2259" dy="13.8">自觉树立高尚的价值观和人生观，用先进的思</tspan><tspan x="2259" dy="13.8">想武装自己，按照"解放思想求真务实提高争</tspan><tspan x="2259" dy="13.8">创佳绩"的总体要求，不断提高自己的政治理</tspan><tspan x="2259" dy="13.8">论素质，一适应社会经济发展的客观要求。</tspan></text></g>
<g id="r_1c" class="n"><rect x="2253" y="4003" width="228" height="39.6" rx="4"/><text><tspan x="2259" y="4018.5">（二）在工作中，我始终保持积极向上的心态</tspan><tspan x="2259" dy="13.8">，努力开展工作。</tspan></text></g>
<g id="r_1d" class="n"><rect x="2253" y="4064" width="228" height="67.2" rx="4"/><text><tspan x="2259" y="4079.5">（三）在生活上，我始终保持一颗积极向上的</tspan><tspan x="2259" dy="13.8">心。严格遵银行各项规章制度，准时上班、下</tspan><tspan x="2259" dy="13.8">班，有事请假，不在公共场所吸烟、喧哗等，</tspan><tspan x="2259" dy="13.8">注重提高自己的职业素养。</tspan></text></g>
<g id="r_2" class="n"><rect x="2037" y="4317" width="196" height="25.8" rx="4"/><text><tspan x="2043" y="4332.5">二、立足本职谋进取，辛勤浇灌工作花</tspan></text></g>
<g id="r_2a" class="n"><rect x="2253" y="4155" width="228" height="81" rx="4"/><text><tspan x="2259" y="4170.5">在这一年的时间里，我热爱我的本职工作，并</tspan><tspan x="2259" dy="13.8">能够认真对待每一项工作任务，把国家的金融</tspan><tspan x="2259" dy="13.8">政策灵活体现在工作中。认真遵守规章制度，</tspan><tspan x="2259" dy="13.8">能够及时完成领导交给的各项任务，积极主动</tspan><tspan x="2259" dy="13.8">地开展工作。</tspan></text></g>
<g id="r_2b" class="n"><rect x="2253" y="4259" width="228" height="25.8" rx="4"/><text><tspan x="2259" y="4274.5">（一）团结守纪，为提高经营效益尽心尽力。</tspan></text></g>
<g id="r_2c" class="n"><rect x="2253" y="4307" width="228" height="39.6" rx="4"/><text><tspan x="2259" y="4322.5">一年来，我与同事们团结一致，服从领导的安</tspan><tspan x="2259" dy="13.8">排，积极主动地做好本职工作。</tspan></text></g>
<g id="r_2d" class="n"><rect x="2253" y="4369" width="196" height="25.8" rx="4"/><text><tspan x="2259" y="4384.5">（二）强化会计意识，发挥会计职能。</tspan></text></g>
<g id="r_2e" class="n"><rect x="2253" y="4417" width="228" height="94.8" rx="4"/><text><tspan x="2259" y="4432.5">这一年，通过学习，了解了会计是行使xx银</tspan><tspan x="2259" dy="13.8">行职能的重要工具和手段，既有核算作用，又</tspan><tspan x="2259" dy="13.8">有管理职能。工作期间，严格遵守会计制度和</tspan><tspan x="2259" dy="13.8">会计原则，认真执行财经纪律，通过参加行里</tspan><tspan x="2259" dy="13.8">提供的各种培训和同事们的帮助，现在我已经</tspan><tspan x="2259" dy="13.8">能独立的进行会计核算。</tspan></text></g>
<g id="r_3" class="n"><rect x="2037" y="4612" width="185" height="25.8" rx="4"/><text><tspan x="2043" y="4627.5">三、路漫漫其修远兮，吾将上下求索</tspan></text></g>
<g id="r_3a" class="n"><rect x="2242" y="4535" width="228" height="177.6" rx="4"/><text><tspan x="2248" y="4550.5">在xx工作的一年，是我不断学习、不断充实</tspan><tspan x="2248" dy="13.8">的一年，是积极探索、逐渐成长的一年。感谢</tspan><tspan x="2248" dy="13.8">各位领导和同事们给我在xx工作的机会。但</tspan><tspan x="2248" dy="13.8">我深知自己还存在经验不足，考虑问题不够全</tspan><tspan x="2248" dy="13.8">面等缺点，以后工作我将在不断夯实专业技能</tspan><tspan x="2248" dy="13.8">的前提下，不断加强自己的学习能力，提高自</tspan><tspan x="2248" dy="13.8">己的专业素质和技能，以满足更新换代的新时</tspan><tspan x="2248" dy="13.8">期，我会努力克服自身缺点，认真学习，努力</tspan><tspan x="2248" dy="13.8">提高自身素质，积极开拓，履行工作职责，服</tspan><tspan x="2248" dy="13.8">从领导。当好参谋助手，与全体职工一起，团</tspan><tspan x="2248" dy="13.8">结一致，为我行经营目标的实现，为完成新的</tspan><tspan x="2248" dy="13.8">一年的各项目标任务而努力奋斗。</tspan></text></g>

<!-- Branch 2 (green) -->
<g id="g_l2" class="n"><rect x="782" y="1982" width="227" height="53.4" rx="4"/><text><tspan x="788" y="1997.5">20__年，培训部根据公司发展战略，结合企</tspan><tspan x="788" dy="13.8">业实际情况，特制定20__年度培训工作</tspan><tspan x="788" dy="13.8">计划如下：</tspan></text></g>
<g id="g_1" class="n"><rect x="555" y="1666" width="206" height="25.8" rx="4"/><text><tspan x="561" y="1681.5">一、课程设置针对性更强，形式更多样。</tspan></text></g>
<g id="g_1a" class="n"><rect x="305" y="1467" width="228" height="94.8" rx="4"/><text><tspan x="311" y="1482.5">1、组织"课程你来选"的活动，培训部将课程</tspan><tspan x="311" dy="13.8">主要内容分为通用类、管理类、业务类、工程</tspan><tspan x="311" dy="13.8">类以及维序类，发布在网上，学员可根据自己</tspan><tspan x="311" dy="13.8">的需求选相应的课程，培训部将汇总列入20_</tspan><tspan x="311" dy="13.8">_年课程表中。以提升培训针对性，优化课件</tspan><tspan x="311" dy="13.8">，提高员工的培训参与度。</tspan></text></g>
<g id="g_1b" class="n"><rect x="305" y="1585" width="228" height="163.8" rx="4"/><text><tspan x="311" y="1600.5">2、做好外训课程的选择，提高外训参与比例</tspan><tspan x="311" dy="13.8">。根据岗位需求，结合公司实际情况，利用外</tspan><tspan x="311" dy="13.8">训充实培训内容，积极做好外训课程选择，提</tspan><tspan x="311" dy="13.8">高员工外训参加比例。20__年参训人次1445</tspan><tspan x="311" dy="13.8">人，其中参加外训人数为36人，20__年，拟</tspan><tspan x="311" dy="13.8">将参加外训人数提升到20%，达到289人次。</tspan><tspan x="311" dy="13.8">使培训工作真正成为公司的基础工作，有效地</tspan><tspan x="311" dy="13.8">提高管理人员和员工的素质，并使之能科学、</tspan><tspan x="311" dy="13.8">扎实而又有效地开展起来，以适应公司的转型</tspan><tspan x="311" dy="13.8">和高速发展，塑造学习型组织，体现公司和个</tspan><tspan x="311" dy="13.8">人的价值。</tspan></text></g>
<g id="g_1c" class="n"><rect x="310" y="1829" width="223" height="25.8" rx="4"/><text><tspan x="316" y="1844.5">3、建立新员工年、月、周三级培训教育体系</tspan></text></g>
<g id="g_1c1" class="n"><rect x="62" y="1773" width="228" height="136.2" rx="4"/><text><tspan x="68" y="1788.5">年度培训是负责物业发展历程、企业文化、物</tspan><tspan x="68" dy="13.8">业服务认识，以及消防知识的普及、演练、拓</tspan><tspan x="68" dy="13.8">展训练等教育和培训。培训对象为公司新员工</tspan><tspan x="68" dy="13.8">，一年两次，每次1.5个工作日。月度培训是</tspan><tspan x="68" dy="13.8">负责公司简介、公司文化、公司制度等培训，</tspan><tspan x="68" dy="13.8">培训对象为公司新员工，每月进行一次集中培</tspan><tspan x="68" dy="13.8">训。周培训是岗位职责及标准、服务礼仪、公</tspan><tspan x="68" dy="13.8">司概况及基本制度等方面的培训，主要以视频</tspan><tspan x="68" dy="13.8">形式，项目组织的方式开展。</tspan></text></g>
<g id="g_2" class="n"><rect x="532" y="1961" width="229" height="39.6" rx="4"/><text><tspan x="538" y="1976.5">二、推进课件标准化，组织各课研组进行课件</tspan><tspan x="538" dy="13.8">评比。</tspan></text></g>
<g id="g_2a" class="n"><rect x="284" y="1933" width="228" height="94.8" rx="4"/><text><tspan x="290" y="1948.5">根据公司转型升级规划，推进标准化建设，不</tspan><tspan x="290" dy="13.8">断完善和更新各项培训内容，优化岗位培训内</tspan><tspan x="290" dy="13.8">容，注重实用性。定期组织各科研组队课程内</tspan><tspan x="290" dy="13.8">容进行优化，并组织评比，让课程更具实操性</tspan><tspan x="290" dy="13.8">，通过改进教学内容、调整教学方法，提升培</tspan><tspan x="290" dy="13.8">训效果。</tspan></text></g>
<g id="g_3" class="n"><rect x="532" y="2123" width="229" height="39.6" rx="4"/><text><tspan x="538" y="2138.5">三、加大对内训师的培养，实现异地培训工作</tspan><tspan x="538" dy="13.8">稳步提升。</tspan></text></g>
<g id="g_3a" class="n"><rect x="298" y="2051" width="215" height="25.8" rx="4"/><text><tspan x="304" y="2066.5">1、组织内训师培训，20__年上半年完成。</tspan></text></g>
<g id="g_3b" class="n"><rect x="309" y="2099" width="204" height="25.8" rx="4"/><text><tspan x="315" y="2114.5">2、内训师的定级，20__年下半年完成。</tspan></text></g>
<g id="g_3c" class="n"><rect x="398" y="2147" width="115" height="25.8" rx="4"/><text><tspan x="404" y="2162.5">3、增加异地内训师。</tspan></text></g>
<g id="g_3d" class="n"><rect x="285" y="2195" width="228" height="53.4" rx="4"/><text><tspan x="291" y="2210.5">4、通过微信平台，开辟新媒体推广途径，以</tspan><tspan x="291" dy="13.8">利于各异地分公司的信息沟通，通过微信平台</tspan><tspan x="291" dy="13.8">推送培训课程，实现与异地项目培训工作。</tspan></text></g>
<g id="g_4" class="n"><rect x="544" y="2327" width="217" height="25.8" rx="4"/><text><tspan x="550" y="2342.5">四、实行学分制管理，增强员工培训效果。</tspan></text></g>
<g id="g_4a" class="n"><rect x="321" y="2272" width="203" height="25.8" rx="4"/><text><tspan x="327" y="2287.5">1、管理员要求每年学习不少于25学分。</tspan></text></g>
<g id="g_4b" class="n"><rect x="314" y="2319" width="210" height="25.8" rx="4"/><text><tspan x="320" y="2334.5">2、学分制度的建立，20__年3月前完成。</tspan></text></g>
<g id="g_4c" class="n"><rect x="295" y="2368" width="229" height="53.4" rx="4"/><text><tspan x="301" y="2383.5">3、年度获得学分可做为岗位升职、提薪的参</tspan><tspan x="301" dy="13.8">考依据，鼓励员工积极参与培训，增加员工学</tspan><tspan x="301" dy="13.8">习积极性。</tspan></text></g>
<g id="g_4c1" class="n"><rect x="46" y="2368" width="229" height="53.4" rx="4"/><text><tspan x="52" y="2383.5">20__年培训部将一如既往的配合好各部门进</tspan><tspan x="52" dy="13.8">行各项培训工作，也将根据计划会议中提到的</tspan><tspan x="52" dy="13.8">各项意见建议认真落实到实处。</tspan></text></g>

<!-- Branch 4 (blue) -->
<g id="b_l2" class="n"><rect x="782" y="2870" width="227" height="150" rx="4"/><text><tspan x="788" y="2885.5">时光如梭，光阴就像流水一样从我的指尖溜走</tspan><tspan x="788" dy="13.8">。不经意间我来到xx已经工作一年了，这一</tspan><tspan x="788" dy="13.8">年这是我人生中弥足珍贵的经历；也是我人生</tspan><tspan x="788" dy="13.8">中最美好的回忆；更是我人生发生转折的一年</tspan><tspan x="788" dy="13.8">。这一年，在各级领导的带领和培养下，在同</tspan><tspan x="788" dy="13.8">事们的关心和帮助下，我在思想、工作、学习</tspan><tspan x="788" dy="13.8">等方面都取得了一定的进步，个人素质也有了</tspan><tspan x="788" dy="13.8">一定提高。在对央行肃然起敬的同时，也会自</tspan><tspan x="788" dy="13.8">己能够成为xx的一员而感到欣喜。现将本人</tspan><tspan x="788" dy="13.8">这一年的工作情况总结如下：</tspan></text></g>
<g id="b_1" class="n"><rect x="566" y="2604" width="195" height="25.8" rx="4"/><text><tspan x="572" y="2619.5">一、问渠那得清如许，为有源头活水来</tspan></text></g>
<g id="b_1a" class="n"><rect x="316" y="2444" width="228" height="81" rx="4"/><text><tspan x="322" y="2459.5">三年的工作经历，让我深刻的体会到，学无止</tspan><tspan x="322" dy="13.8">境，为了顺应时代的变化，我将坚持不懈的学</tspan><tspan x="322" dy="13.8">习银行各方面的知识在思想、专业能力文化诸</tspan><tspan x="322" dy="13.8">方面得到鲜活的"源头之水"，只有这样，才能</tspan><tspan x="322" dy="13.8">不断进步，保持一渠清泉。</tspan></text></g>
<g id="b_1b" class="n"><rect x="316" y="2548" width="228" height="81" rx="4"/><text><tspan x="322" y="2563.5">（一）在思想上，我始终坚持四项基本原则，</tspan><tspan x="322" dy="13.8">自觉树立高尚的价值观和人生观，用先进的思</tspan><tspan x="322" dy="13.8">想武装自己，按照"解放思想求真务实提高争</tspan><tspan x="322" dy="13.8">创佳绩"的总体要求，不断提高自己的政治理</tspan><tspan x="322" dy="13.8">论素质，一适应社会经济发展的客观要求。</tspan></text></g>
<g id="b_1c" class="n"><rect x="316" y="2652" width="228" height="39.6" rx="4"/><text><tspan x="322" y="2667.5">（二）在工作中，我始终保持积极向上的心态</tspan><tspan x="322" dy="13.8">，努力开展工作。</tspan></text></g>
<g id="b_1d" class="n"><rect x="316" y="2713" width="228" height="67.2" rx="4"/><text><tspan x="322" y="2728.5">（三）在生活上，我始终保持一颗积极向上的</tspan><tspan x="322" dy="13.8">心。严格遵银行各项规章制度，准时上班、下</tspan><tspan x="322" dy="13.8">班，有事请假，不在公共场所吸烟、喧哗等，</tspan><tspan x="322" dy="13.8">注重提高自己的职业素养。</tspan></text></g>
<g id="b_2" class="n"><rect x="566" y="2967" width="195" height="25.8" rx="4"/><text><tspan x="572" y="2982.5">二、立足本职谋进取，辛勤浇灌工作花</tspan></text></g>
<g id="b_2a" class="n"><rect x="316" y="2804" width="228" height="81" rx="4"/><text><tspan x="322" y="2819.5">在这一年的时间里，我热爱我的本职工作，并</tspan><tspan x="322" dy="13.8">能够认真对待每一项工作任务，把国家的金融</tspan><tspan x="322" dy="13.8">政策灵活体现在工作中。认真遵守规章制度，</tspan><tspan x="322" dy="13.8">能够及时完成领导交给的各项任务，积极主动</tspan><tspan x="322" dy="13.8">地开展工作。</tspan></text></g>
<g id="b_2b" class="n"><rect x="316" y="2908" width="228" height="25.8" rx="4"/><text><tspan x="322" y="2923.5">（一）团结守纪，为提高经营效益尽心尽力。</tspan></text></g>
<g id="b_2c" class="n"><rect x="316" y="2956" width="228" height="39.6" rx="4"/><text><tspan x="322" y="2971.5">一年来，我与同事们团结一致，服从领导的安</tspan><tspan x="322" dy="13.8">排，积极主动地做好本职工作。</tspan></text></g>
<g id="b_2d" class="n"><rect x="349" y="3017" width="195" height="25.8" rx="4"/><text><tspan x="355" y="3032.5">（二）强化会计意识，发挥会计职能。</tspan></text></g>
<g id="b_2e" class="n"><rect x="316" y="3066" width="228" height="94.8" rx="4"/><text><tspan x="322" y="3081.5">这一年，通过学习，了解了会计是行使xx银</tspan><tspan x="322" dy="13.8">行职能的重要工具和手段，既有核算作用，又</tspan><tspan x="322" dy="13.8">有管理职能。工作期间，严格遵守会计制度和</tspan><tspan x="322" dy="13.8">会计原则，认真执行财经纪律，通过参加行里</tspan><tspan x="322" dy="13.8">提供的各种培训和同事们的帮助，现在我已经</tspan><tspan x="322" dy="13.8">能独立的进行会计核算。</tspan></text></g>
<g id="b_3" class="n"><rect x="576" y="3261" width="185" height="25.8" rx="4"/><text><tspan x="582" y="3276.5">三、路漫漫其修远兮，吾将上下求索</tspan></text></g>
<g id="b_3a" class="n"><rect x="328" y="3185" width="228" height="177.6" rx="4"/><text><tspan x="334" y="3200.5">在xx工作的一年，是我不断学习、不断充实</tspan><tspan x="334" dy="13.8">的一年，是积极探索、逐渐成长的一年。感谢</tspan><tspan x="334" dy="13.8">各位领导和同事们给我在xx工作的机会。但</tspan><tspan x="334" dy="13.8">我深知自己还存在经验不足，考虑问题不够全</tspan><tspan x="334" dy="13.8">面等缺点，以后工作我将在不断夯实专业技能</tspan><tspan x="334" dy="13.8">的前提下，不断加强自己的学习能力，提高自</tspan><tspan x="334" dy="13.8">己的专业素质和技能，以满足更新换代的新时</tspan><tspan x="334" dy="13.8">期，我会努力克服自身缺点，认真学习，努力</tspan><tspan x="334" dy="13.8">提高自身素质，积极开拓，履行工作职责，服</tspan><tspan x="334" dy="13.8">从领导。当好参谋助手，与全体职工一起，团</tspan><tspan x="334" dy="13.8">结一致，为我行经营目标的实现，为完成新的</tspan><tspan x="334" dy="13.8">一年的各项目标任务而努力奋斗。</tspan></text></g>
</g>
</svg>
